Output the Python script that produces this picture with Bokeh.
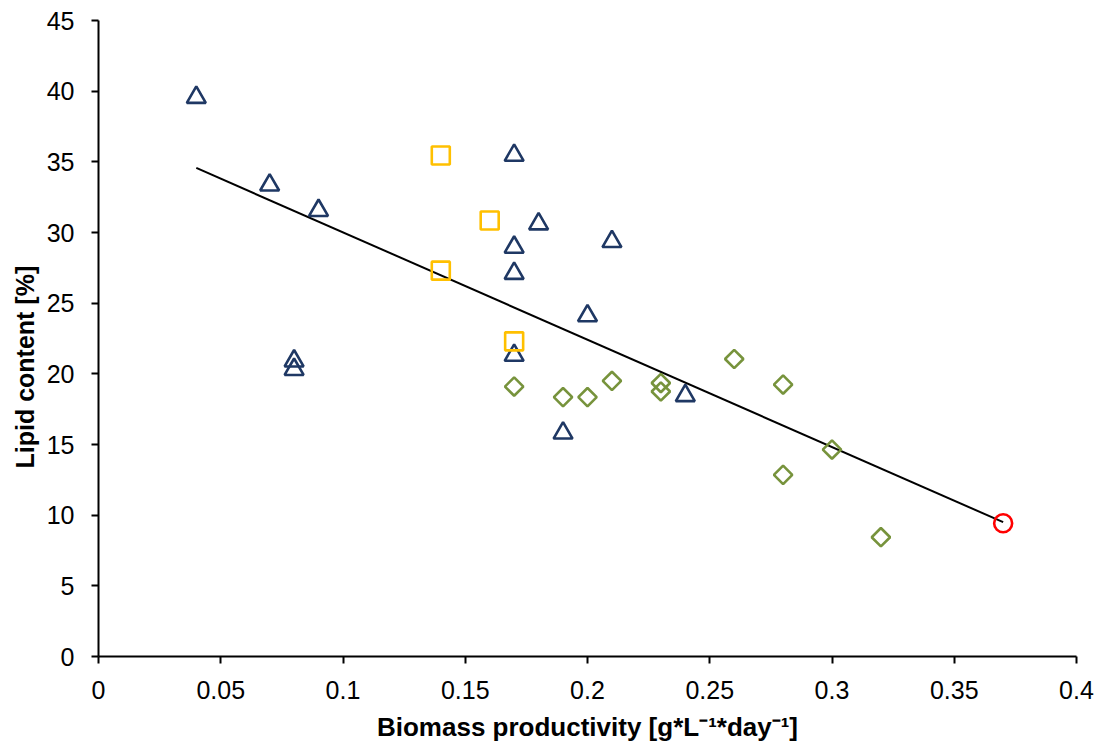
import numpy as np
from bokeh.plotting import figure
from bokeh.models import (Range1d, SingleIntervalTicker, NumeralTickFormatter, Title,
                          ColumnDataSource)
from bokeh.transform import dodge
from bokeh.embed import file_html
from bokeh.resources import INLINE

# ---- data ----
tri_x = [0.04, 0.07, 0.09, 0.08, 0.08, 0.17, 0.17, 0.17, 0.18, 0.21, 0.20, 0.17, 0.19, 0.24]
tri_y = [39.75, 33.55, 31.75, 21.1, 20.5, 35.65, 29.15, 27.3, 30.8, 29.55, 24.3, 21.5, 16.0, 18.65]

sq_x = [0.14, 0.16, 0.14, 0.17]
sq_y = [35.45, 30.85, 27.3, 22.3]

dia_x = [0.17, 0.19, 0.20, 0.21, 0.23, 0.23, 0.26, 0.28, 0.28, 0.30, 0.32]
dia_y = [19.1, 18.35, 18.35, 19.5, 19.35, 18.75, 21.05, 19.24, 12.85, 14.64, 8.44]

circ_x = [0.37]
circ_y = [9.43]

x_label = "Biomass productivity [g*L\u207b\u00b9*day\u207b\u00b9]"
y_label = "Lipid content [%]"

# linear trend over all points
all_x = np.array(tri_x + sq_x + dia_x + circ_x)
all_y = np.array(tri_y + sq_y + dia_y + circ_y)
slope, intercept = np.polyfit(all_x, all_y, 1)
trend_x = np.array([all_x.min(), all_x.max()])
trend_y = slope * trend_x + intercept

FONT = "Liberation Sans"

p = figure(width=1100, height=744, output_backend="svg", toolbar_location=None,
           x_range=Range1d(0, 0.4), y_range=Range1d(0, 45),
           min_border_left=98, min_border_right=24, min_border_top=20, min_border_bottom=87)
p.outline_line_color = None
p.grid.visible = False
p.background_fill_color = "white"
p.border_fill_color = "white"

p.line(trend_x, trend_y, line_color="black", line_width=2)

# triangle markers are anchored at their centroid; shift so the box centre sits on the value
tri_src = ColumnDataSource(dict(x=tri_x, y=tri_y))
p.scatter("x", dodge("y", -0.19, range=p.y_range), source=tri_src, marker="triangle",
          size=19, fill_color=None, line_color="#1F3864", line_width=2.6)
p.scatter(sq_x, sq_y, marker="square", size=18, fill_color=None,
          line_color="#FFC000", line_width=2.6)
p.scatter(dia_x, dia_y, marker="square", size=13, angle=np.pi / 4, fill_color=None,
          line_color="#77933C", line_width=2.6)
p.scatter(circ_x, circ_y, marker="circle", size=18, fill_color=None,
          line_color="#FF0000", line_width=2.6)

xa = p.xaxis[0]
ya = p.yaxis[0]
xa.ticker = SingleIntervalTicker(interval=0.05)
ya.ticker = SingleIntervalTicker(interval=5)
xa.formatter = NumeralTickFormatter(format="0.[00]")
for ax in (xa, ya):
    ax.axis_line_color = "black"
    ax.axis_line_width = 2
    ax.major_tick_line_color = "black"
    ax.major_tick_line_width = 2
    ax.major_tick_out = 7
    ax.major_tick_in = 0
    ax.minor_tick_line_color = None
    ax.major_label_text_font = FONT
    ax.major_label_text_font_size = "25px"
    ax.major_label_text_color = "black"
xa.major_label_standoff = 17
ya.major_label_standoff = 17

xa.axis_label = x_label
xa.axis_label_text_font = FONT
xa.axis_label_text_font_size = "26px"
xa.axis_label_text_font_style = "bold"
xa.axis_label_text_color = "black"
xa.axis_label_standoff = 10

# y title: Excel centres it on the whole chart body, so place it from the bottom
p.add_layout(Title(text=y_label, align="left", offset=188, standoff=10,
                   text_font=FONT, text_font_size="25px", text_font_style="bold",
                   text_color="black"), "left")

open("out.html", "w").write(file_html(p, INLINE))
